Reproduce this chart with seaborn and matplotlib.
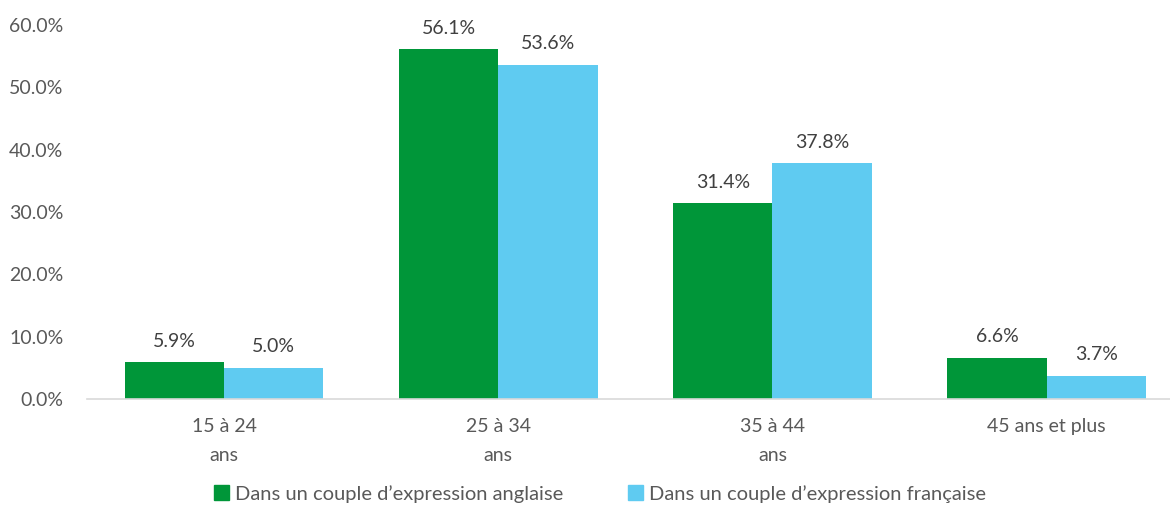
import numpy as np
import matplotlib
matplotlib.use("Agg")
import matplotlib.pyplot as plt
import seaborn as sns
import pandas as pd

sns.set_style("white")
plt.rcParams['font.family'] = ['Lato', 'DejaVu Sans']

categories = ['15 à 24\nans', '25 à 34\nans', '35 à 44\nans', '45 ans et plus']
series = ["Dans un couple d\u2019expression anglaise", "Dans un couple d\u2019expression française"]
anglaise = [5.9, 56.1, 31.4, 6.6]
francaise = [5.0, 53.6, 37.8, 3.7]
colors = ['#009639', '#5FCBF1']
grey = '#595959'

df = pd.DataFrame({
    'groupe': categories * 2,
    'valeur': anglaise + francaise,
    'serie': [series[0]] * 4 + [series[1]] * 4,
})

fig = plt.figure(figsize=(11.7, 5.16), dpi=100)
ax = fig.add_axes([87 / 1170, 117 / 516, 1 - 87 / 1170, 374 / 516])
sns.barplot(data=df, x='groupe', y='valeur', hue='serie', palette=colors,
            width=0.725, saturation=1, linewidth=0, ax=ax, legend=False)

for cont in ax.containers:
    ax.bar_label(cont, fmt='%.1f%%', padding=9, fontsize=14, color='#404040')

ax.set_ylim(0, 60)
ax.set_xlim(-0.5, 3.45)
ax.set_yticks(np.arange(0, 61, 10))
ax.set_yticklabels([f'{v:.1f}%' for v in np.arange(0, 61, 10)])
ax.tick_params(axis='both', labelsize=14, colors=grey, length=0)
ax.tick_params(axis='y', pad=17)
ax.tick_params(axis='x', pad=14)
for lab in ax.get_xticklabels():
    lab.set_linespacing(1.8)
ax.set_xlabel('')
ax.set_ylabel('')
for s in ['top', 'right', 'left']:
    ax.spines[s].set_visible(False)
ax.spines['bottom'].set_color('#d9d9d9')
ax.spines['bottom'].set_linewidth(1.2)

handles = [plt.Rectangle((0, 0), 1, 1, color=c) for c in colors]
fig.legend(handles, series, loc='center', bbox_to_anchor=(600 / 1170, 0.043),
           ncol=2, frameon=False, fontsize=14.5, handlelength=0.75, handleheight=0.75,
           handletextpad=0.3, columnspacing=3.2, labelcolor=grey)

fig.savefig('out.png', dpi=100)
